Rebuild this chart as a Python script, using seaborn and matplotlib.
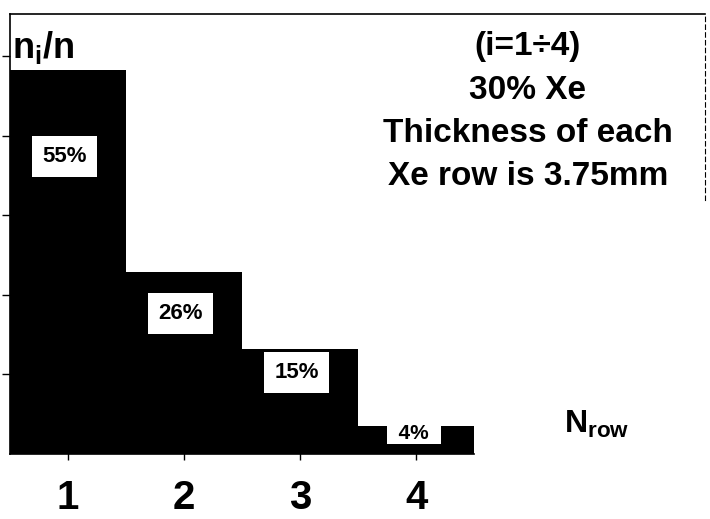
import matplotlib
matplotlib.use("Agg")
import matplotlib.pyplot as plt
import seaborn as sns
import pandas as pd

# Data
rows = ["1", "2", "3", "4"]
shares = [55, 26, 15, 4]  # percent of n
share_labels = ["55%", "26%", "15%", "4%"]
note_lines = ["(i=1÷4)", "30% Xe", "Thickness of each", "Xe row is 3.75mm"]

sns.set_theme(style="white")
plt.rcParams['font.family'] = ['Liberation Sans', 'DejaVu Sans']
plt.rcParams['mathtext.fontset'] = 'custom'
plt.rcParams['mathtext.rm'] = 'Liberation Sans:bold'

df = pd.DataFrame({"row": rows, "share": shares})

fig = plt.figure(figsize=(7.1, 5.19), dpi=100)
ax = fig.add_axes([10 / 710, 65 / 519, 695 / 710, 440 / 519])

sns.barplot(data=df, x="row", y="share", color="black", width=1.0,
            saturation=1, linewidth=0, ax=ax)

ax.set_xlim(-0.5, 5.49)
ax.set_ylim(0, 63)

# labels in white boxes inside the bars
for i, (v, lab) in enumerate(zip(shares, share_labels)):
    if v < 8:
        ax.text(i - 0.02, v * 0.72, "  " + lab + "  ", ha="center", va="center",
                fontsize=15, fontweight="bold", color="black",
                bbox=dict(boxstyle="square,pad=0.02", fc="white", ec="none"))
    else:
        ax.text(i - 0.03, v * 0.775, lab, ha="center", va="center",
                fontsize=16, fontweight="bold", color="black",
                bbox=dict(boxstyle="square,pad=0.45", fc="white", ec="none"))

# axis texts
ax.text(0.003, 0.965, r"n$_\mathregular{i}$/n", transform=ax.transAxes,
        ha="left", va="top", fontsize=26, fontweight="bold", color="black")
ax.text(4.56, 3.0, r"N$_\mathregular{row}$", ha="center", va="baseline",
        fontsize=23, fontweight="bold", color="black")

# annotation block
for k, line in enumerate(note_lines):
    ax.text(0.745, 0.925 - k * 0.098, line, transform=ax.transAxes,
            ha="center", va="center", fontsize=24, fontweight="bold",
            color="black")

# ticks and frame
ax.set_yticks([11.4 * k for k in range(1, 6)])
ax.set_yticklabels([])
ax.tick_params(axis="y", left=True, direction="out", length=6, width=1, colors="black")
ax.tick_params(axis="x", bottom=True, direction="inout", length=8, width=1,
               colors="black", labelsize=29, pad=14)
for t in ax.get_xticklabels():
    t.set_fontweight("bold")
ax.set_xlabel("")
ax.set_ylabel("")

for side in ["left", "top", "bottom", "right"]:
    ax.spines[side].set_color("black")
    ax.spines[side].set_linewidth(1.2)
ax.spines["bottom"].set_bounds(-0.5, 3.5)
ax.spines["right"].set_bounds(36.4, 63)
ax.spines["right"].set_linestyle((0, (4, 3)))
ax.spines["right"].set_linewidth(0.8)

fig.savefig("out.png", dpi=100)
